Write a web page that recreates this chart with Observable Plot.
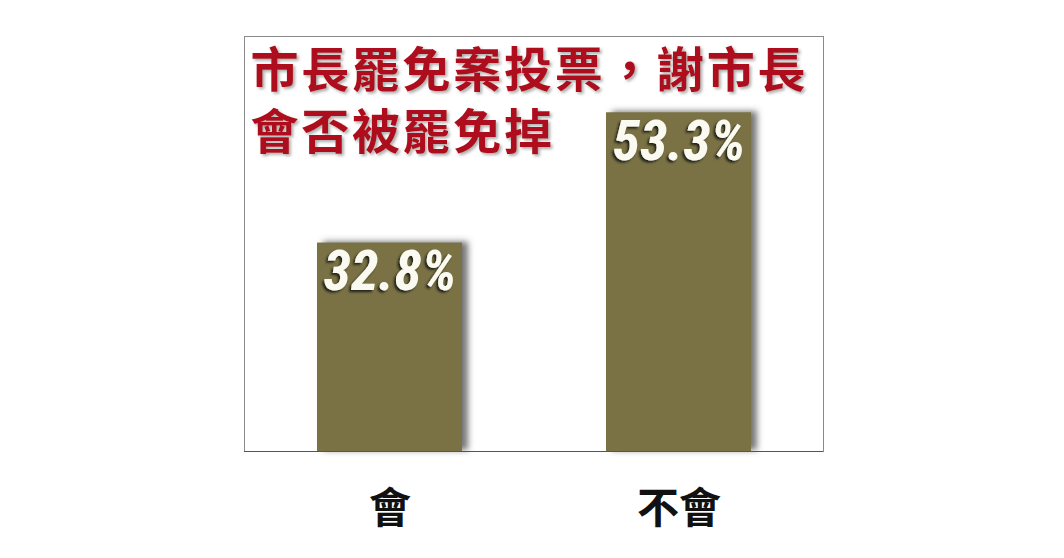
<!DOCTYPE html>
<html>
<head>
<meta charset="utf-8">
<script src="https://cdn.jsdelivr.net/npm/d3@7"></script>
<script src="https://cdn.jsdelivr.net/npm/@observablehq/plot@0.6"></script>
<style>
  html, body { margin: 0; padding: 0; background: #fff; }
  #chart { width: 1064px; height: 558px; }
</style>
</head>
<body>
<div id="chart"></div>
<script>
// ---- data ----
const categories = ["會", "不會"];
const values = [32.8, 53.3];
const valueLabels = ["32.8%", "53.3%"];
const titleText = "市長罷免案投票，謝市長\n會否被罷免掉";

const data = categories.map((c, i) => ({ category: c, value: values[i], label: valueLabels[i] }));

const barColor = "#7a7244";
const numFont = "'Liberation Sans Narrow', 'Roboto Condensed', sans-serif";

const chart = Plot.plot({
  width: 1064,
  height: 558,
  marginLeft: 244,
  marginRight: 241,
  marginTop: 36,
  marginBottom: 107,
  style: { fontFamily: "'Noto Sans CJK TC', sans-serif", background: "#fff" },
  x: { domain: categories, paddingInner: 0.5, paddingOuter: 0.25, label: null },
  y: { domain: [0, 65.3], axis: null },
  marks: [
    Plot.frame({ stroke: "#8a8a8a", strokeWidth: 1 }),
    Plot.barY(data, { x: "category", y: "value", fill: barColor }),
    Plot.ruleY([0], { stroke: "#555", strokeWidth: 1.2 }),
    // value labels
    Plot.text(data, { x: "category", y: "value", text: "label", dy: 29, fill: "#fbfaf0",
      fontFamily: numFont, fontWeight: "bold", fontStyle: "italic", fontSize: 56 }),
    // title
    Plot.text([titleText], { frameAnchor: "top-left", text: d => d, dx: 6, dy: 7, lineAnchor: "top",
      textAnchor: "start", fontSize: 48, fontWeight: 700, lineHeight: 1.29, fill: "#ad111b" }),
    Plot.axisX({ tickSize: 0, tickPadding: 42, fontSize: 42, fontWeight: 700, fill: "#111", label: null })
  ]
});

document.getElementById("chart").appendChild(chart);

// soft shadows via SVG filters (no duplicate marks)
const svg = d3.select(chart);
const defs = svg.insert("defs", ":first-child");
function dropShadow(id, dx, dy, sd, color, op) {
  defs.append("filter").attr("id", id)
    .attr("x", "-20%").attr("y", "-20%").attr("width", "150%").attr("height", "150%")
    .append("feDropShadow").attr("dx", dx).attr("dy", dy).attr("stdDeviation", sd)
    .attr("flood-color", color).attr("flood-opacity", op);
}
dropShadow("shBar", 6, -1, 3, "#555", 0.8);
dropShadow("shNum", -2, 2, 0.8, "#1e1e16", 0.95);
dropShadow("shTitle", 2, 2, 1.5, "#777", 0.6);

const barGroups = svg.selectAll("g[aria-label='bar']").nodes();
if (barGroups[0]) d3.select(barGroups[0]).attr("filter", "url(#shBar)");
const textGroups = svg.selectAll("g[aria-label='text']").nodes();
if (textGroups[0]) d3.select(textGroups[0]).attr("filter", "url(#shNum)");
if (textGroups[1]) d3.select(textGroups[1]).attr("filter", "url(#shTitle)")
  .selectAll("text").style("letter-spacing", "2.7px");
</script>
</body>
</html>
